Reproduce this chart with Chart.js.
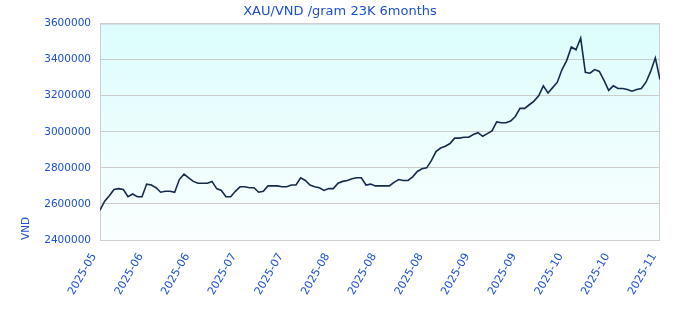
<!DOCTYPE html>
<html>
<head>
<meta charset="utf-8">
<script src="https://cdn.jsdelivr.net/npm/chart.js@4"></script>
<style>
  html, body { margin: 0; padding: 0; background: #fff; }
  #wrap { width: 680px; height: 320px; }
</style>
</head>
<body>
<div id="wrap"><canvas id="goldChart"></canvas></div>
<script>
// XAU/VND price per gram (23K), last 6 months
const tickLabels = ["2025-05", "2025-06", "2025-06", "2025-07", "2025-07", "2025-08", "2025-08",
  "2025-08", "2025-09", "2025-09", "2025-10", "2025-10", "2025-11"];

const prices = [
  2565000, 2615000, 2645000, 2680000, 2685000, 2680000, 2640000, 2655000, 2640000, 2640000,
  2710000, 2705000, 2690000, 2665000, 2670000, 2670000, 2665000, 2735000, 2765000, 2745000,
  2725000, 2715000, 2715000, 2715000, 2725000, 2685000, 2675000, 2640000, 2640000, 2670000,
  2695000, 2695000, 2690000, 2690000, 2665000, 2670000, 2700000, 2700000, 2700000, 2695000,
  2695000, 2705000, 2705000, 2745000, 2730000, 2705000, 2695000, 2690000, 2675000, 2685000,
  2685000, 2715000, 2725000, 2730000, 2740000, 2745000, 2745000, 2705000, 2710000, 2700000,
  2700000, 2700000, 2700000, 2720000, 2735000, 2730000, 2730000, 2750000, 2780000, 2795000,
  2800000, 2840000, 2890000, 2910000, 2920000, 2935000, 2965000, 2965000, 2970000, 2970000,
  2985000, 2995000, 2975000, 2990000, 3005000, 3055000, 3050000, 3050000, 3060000, 3085000,
  3130000, 3130000, 3150000, 3170000, 3200000, 3255000, 3215000, 3245000, 3275000, 3345000,
  3395000, 3470000, 3455000, 3520000, 3330000, 3325000, 3345000, 3335000, 3285000, 3230000,
  3255000, 3240000, 3240000, 3235000, 3225000, 3235000, 3240000, 3275000, 3335000, 3410000,
  3290000
];

const yMin = 2400000, yMax = 3600000, yStep = 200000;
const pointsPerLabel = 10;

const textBlue = "#1c4fd2";
const fontFamily = "'DejaVu Sans', Verdana, sans-serif";

// plot background gradient + frame
const areaBg = {
  id: "areaBg",
  beforeDraw(chart) {
    const { ctx, chartArea: a } = chart;
    const g = ctx.createLinearGradient(0, a.top, 0, a.bottom);
    g.addColorStop(0, "#dcfdfd");
    g.addColorStop(1, "#fafefe");
    ctx.save();
    ctx.fillStyle = g;
    ctx.fillRect(a.left, a.top, a.right - a.left, a.bottom - a.top);
    ctx.restore();
  },
  beforeDatasetsDraw(chart) {
    const { ctx, chartArea: a } = chart;
    ctx.save();
    ctx.strokeStyle = "#cfcfcf";
    ctx.lineWidth = 1;
    ctx.strokeRect(a.left + 0.5, a.top + 0.5, a.right - a.left - 1, a.bottom - a.top);
    ctx.restore();
  }
};

const data = prices.map((v, i) => ({ x: i, y: v }));

new Chart(document.getElementById("goldChart"), {
  type: "line",
  data: {
    datasets: [{
      data: data,
      borderColor: "#142b4c",
      borderWidth: 1.6,
      pointRadius: 0,
      tension: 0,
      fill: false
    }]
  },
  plugins: [areaBg],
  options: {
    responsive: true, maintainAspectRatio: false, animation: false,
    layout: { padding: { left: 20, right: 20, top: 0, bottom: 0 } },
    plugins: {
      legend: { display: false },
      tooltip: { enabled: false },
      title: {
        display: true,
        text: "XAU/VND /gram 23K 6months",
        color: textBlue,
        font: { family: fontFamily, size: 13, weight: "normal" },
        padding: { top: 4, bottom: 4 }
      }
    },
    scales: {
      x: {
        type: "linear",
        min: 0, max: prices.length - 1,
        grid: { display: false },
        border: { display: false },
        ticks: {
          stepSize: pointsPerLabel,
          autoSkip: false,
          minRotation: 60, maxRotation: 60,
          color: textBlue,
          padding: 3,
          labelOffset: -6,
          font: { family: fontFamily, size: 11 },
          callback: v => tickLabels[Math.round(v / pointsPerLabel)]
        },
        afterFit: s => { s.height = 80; }
      },
      y: {
        min: yMin, max: yMax,
        grid: { color: "#cccccc", drawTicks: false },
        border: { display: false },
        ticks: {
          stepSize: yStep,
          color: textBlue,
          padding: 9,
          font: { family: fontFamily, size: 10.5 },
          callback: v => String(v)
        },
        title: {
          display: true,
          text: "VND",
          align: "start",
          color: textBlue,
          font: { family: fontFamily, size: 10.5 },
          padding: { top: 0, bottom: 4 }
        },
        afterFit: s => { s.width = 80; }
      }
    }
  }
});
</script>
</body>
</html>
